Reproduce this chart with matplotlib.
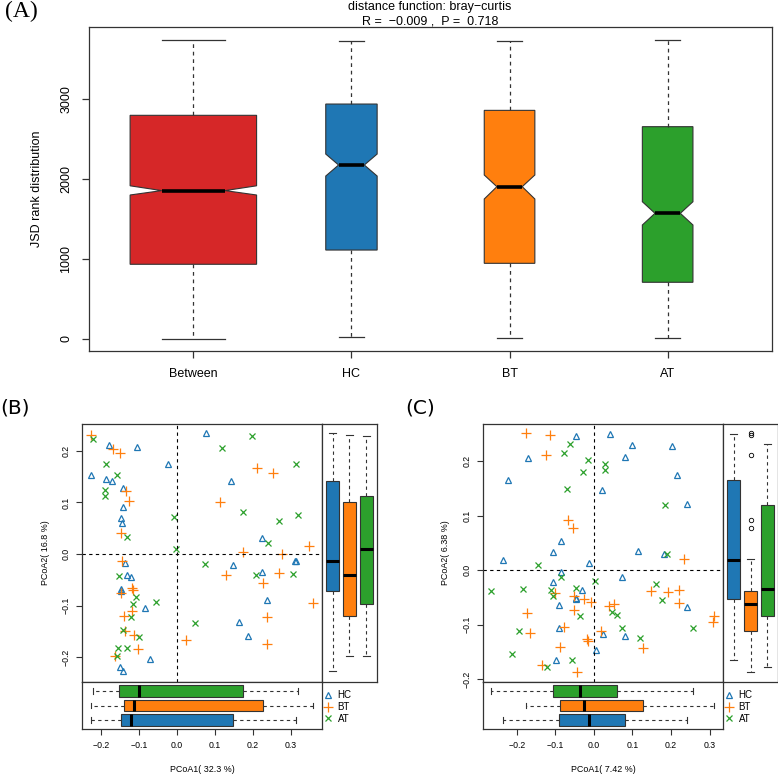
import numpy as np
import matplotlib
matplotlib.use('Agg')
import matplotlib.pyplot as plt

plt.rcParams['font.family'] = ['Liberation Sans', 'DejaVu Sans']

# ---- Panel A: JSD rank distribution (box statistics)
groups_a = ['Between', 'HC', 'BT', 'AT']
a_whislo = [0, 20, 10, 10]
a_q1 = [934, 1112, 946, 709]
a_med = [1855, 2175, 1904, 1571]
a_q3 = [2796, 2937, 2858, 2654]
a_whishi = [3737, 3725, 3721, 3737]
a_cilo = [1800, 2037, 1750, 1425]
a_cihi = [1915, 2312, 2050, 1716]
a_widths = [0.8, 0.325, 0.32, 0.32]

# ---- Panel B: PCoA (bray-curtis), x = PCoA1, y = PCoA2
hc_b_x = [0.0763, -0.178, -0.105, -0.023, -0.226, -0.187, -0.171, -0.143, -0.142, -0.147,
          -0.144, -0.136, -0.131, -0.122, -0.147, -0.146, -0.084, -0.071, -0.150, -0.141,
          0.142, 0.225, 0.148, 0.225, 0.310, 0.314, 0.238, 0.163, 0.186]
hc_b_y = [0.235, 0.212, 0.207, 0.174, 0.153, 0.146, 0.142, 0.127, 0.092, 0.069,
          0.060, -0.018, -0.040, -0.045, -0.068, -0.072, -0.104, -0.203, -0.219, -0.227,
          0.142, 0.032, -0.022, -0.035, -0.014, -0.014, -0.090, -0.131, -0.159]
bt_b_x = [-0.2255, -0.168, -0.149, -0.133, -0.127, -0.147, -0.144, -0.118, -0.117, -0.148,
          -0.118, -0.140, -0.137, -0.112, -0.103, -0.164, 0.0245, 0.2105, 0.2526, 0.114,
          0.349, 0.1745, 0.277, 0.1305, 0.268, 0.227, 0.359, 0.238, 0.238]
bt_b_y = [0.230, 0.204, 0.195, 0.122, 0.103, 0.041, -0.014, -0.066, -0.070, -0.075,
          -0.111, -0.121, -0.150, -0.156, -0.185, -0.197, -0.167, 0.167, 0.158, 0.101,
          0.016, 0.004, 0.001, -0.041, -0.037, -0.057, -0.094, -0.122, -0.174]
at_b_x = [-0.220, -0.186, -0.158, -0.189, -0.1895, -0.008, -0.131, -0.003, -0.152, -0.109,
          -0.115, -0.056, -0.120, -0.142, -0.101, -0.1545, -0.131, -0.159, 0.048, 0.075,
          0.198, 0.118, 0.313, 0.174, 0.319, 0.2675, 0.2395, 0.208, 0.306]
at_b_y = [0.222, 0.175, 0.153, 0.124, 0.113, 0.071, 0.033, 0.010, -0.043, -0.084,
          -0.097, -0.092, -0.123, -0.148, -0.160, -0.182, -0.183, -0.197, -0.134, -0.019,
          0.228, 0.206, 0.175, 0.082, 0.076, 0.064, 0.022, -0.041, -0.038]

# ---- Panel C: PCoA (second distance)
hc_c_x = [-0.046, -0.172, -0.222, 0.021, -0.0865, -0.1055, -0.236, -0.013, -0.085, -0.107,
          -0.030, -0.047, -0.046, -0.092, -0.092, 0.0226, 0.0044, -0.098, 0.041, 0.098,
          0.2036, 0.080, 0.2166, 0.2416, 0.1135, 0.183, 0.074, 0.2426, 0.0805]
hc_c_y = [0.246, 0.206, 0.165, 0.146, 0.054, 0.034, 0.019, 0.012, -0.004, -0.0215,
          -0.036, -0.0515, -0.053, -0.064, -0.107, -0.118, -0.146, -0.166, 0.249, 0.230,
          0.228, 0.208, 0.174, 0.122, 0.035, 0.030, -0.012, -0.068, -0.121]
bt_c_x = [-0.177, -0.115, -0.1255, -0.068, -0.0545, -0.100, -0.053, -0.027, -0.007, -0.052,
          -0.173, -0.077, -0.167, -0.018, -0.0145, -0.089, -0.134, -0.043, 0.018, 0.234,
          0.148, 0.192, 0.222, 0.222, 0.040, 0.052, 0.312, 0.310, 0.1265]
bt_c_y = [0.251, 0.248, 0.211, 0.091, 0.077, -0.043, -0.0485, -0.053, -0.058, -0.073,
          -0.079, -0.104, -0.115, -0.1275, -0.131, -0.142, -0.174, -0.1875, -0.112, 0.021,
          -0.038, -0.041, -0.037, -0.061, -0.066, -0.062, -0.084, -0.096, -0.143]
at_c_x = [-0.063, -0.078, -0.016, -0.029, 0.0296, 0.0296, -0.070, -0.144, -0.086, 0.004,
          -0.2665, -0.183, -0.1125, -0.0475, -0.1055, -0.036, -0.194, -0.212, -0.122, -0.058,
          0.1845, 0.1905, 0.161, 0.176, 0.047, 0.060, 0.258, 0.072, 0.1195]
at_c_y = [0.232, 0.215, 0.202, 0.179, 0.195, 0.183, 0.148, 0.010, -0.013, -0.020,
          -0.038, -0.034, -0.036, -0.0325, -0.047, -0.084, -0.112, -0.154, -0.178, -0.165,
          0.120, 0.030, -0.026, -0.055, -0.077, -0.082, -0.107, -0.107, -0.1245]

group_names = ['HC', 'BT', 'AT']
colors = {'Between': '#D62728', 'HC': '#1F77B4', 'BT': '#FF7F0E', 'AT': '#2CA02C'}
markers = {'HC': ('^', 5.0), 'BT': ('+', 6.5), 'AT': ('x', 4.5)}

EDGE = '#333333'
W, H = 778, 776


def rect(l, t, r, b):
    return [l / W, 1 - b / H, (r - l) / W, (b - t) / H]


def minus(v, fmt):
    return (fmt % v).replace('-', '\u2212')


def style_spines(ax):
    for s in ax.spines.values():
        s.set_color(EDGE)
        s.set_linewidth(0.9)


fig = plt.figure(figsize=(W / 100, H / 100), dpi=100)

# ================= Panel A =================
axA = fig.add_axes(rect(89, 27, 772, 351))
stats = []
for i, g in enumerate(groups_a):
    stats.append(dict(label=g, whislo=a_whislo[i], q1=a_q1[i], med=a_med[i], q3=a_q3[i],
                      whishi=a_whishi[i], cilo=a_cilo[i], cihi=a_cihi[i], fliers=[]))
bp = axA.bxp(stats, positions=[1, 2, 3, 4], widths=a_widths, shownotches=True,
             patch_artist=True,
             boxprops=dict(edgecolor=EDGE, linewidth=0.8),
             medianprops=dict(color='black', linewidth=2.6),
             whiskerprops=dict(color=EDGE, linewidth=0.9, linestyle=(0, (3, 3))),
             capprops=dict(color=EDGE, linewidth=0.9))
for patch, g in zip(bp['boxes'], groups_a):
    patch.set_facecolor(colors[g])
axA.set_xlim(0.34, 4.66)
axA.set_ylim(-150, 3900)
yt = [0, 1000, 2000, 3000]
axA.set_yticks(yt)
axA.set_yticklabels([str(t) for t in yt], rotation=90, va='center')
axA.set_xticks([1, 2, 3, 4])
axA.set_xticklabels(groups_a)
axA.tick_params(axis='both', labelsize=9, length=5, width=0.9, color=EDGE, direction='out')
axA.tick_params(axis='y', pad=7)
axA.tick_params(axis='x', pad=7)
style_spines(axA)
fig.text(37 / W, 1 - 189 / H, 'JSD rank distribution', rotation=90, ha='center', va='center', fontsize=9)
fig.text(430 / W, 1 - 7 / H, 'distance function: bray\u2212curtis', ha='center', va='center', fontsize=9)
fig.text(430 / W, 1 - 21 / H, 'R =  \u22120.009 ,  P =  0.718', ha='center', va='center', fontsize=9)
fig.text(0.006, 0.999, '(A)', ha='left', va='top', fontsize=17, family='Liberation Serif')


# ================= Panels B and C =================
def pcoa_panel(left, xs, ys, xlim, ylim, xticks, yticks, xlabel, ylabel, tag, tag_x):
    main = fig.add_axes(rect(left, 424, left + 240, 682))
    side = fig.add_axes(rect(left + 240, 424, left + 295, 682))
    bottom = fig.add_axes(rect(left, 682, left + 240, 729))

    handles = []
    for g, x, y in zip(group_names, xs, ys):
        m, ms = markers[g]
        h, = main.plot(x, y, linestyle='none', marker=m, ms=ms, mfc='none', mec=colors[g],
                       mew=0.9, label=g)
        handles.append(h)
    main.axvline(0, color='black', lw=0.8, linestyle=(0, (3, 3)))
    main.axhline(0, color='black', lw=0.8, linestyle=(0, (3, 3)))
    main.set_xlim(*xlim)
    main.set_ylim(*ylim)
    main.set_xticks([])
    main.set_yticks(yticks)
    main.set_yticklabels([minus(t, '%.1f') for t in yticks], rotation=90, va='center')
    main.tick_params(axis='y', labelsize=6.3, length=4, width=0.8, color=EDGE, pad=4)

    box_kw = dict(widths=0.8, patch_artist=True, whis=1.5,
                  boxprops=dict(edgecolor=EDGE, linewidth=0.8),
                  medianprops=dict(color='black', linewidth=2.2),
                  whiskerprops=dict(color=EDGE, linewidth=0.8, linestyle=(0, (3, 3))),
                  capprops=dict(color=EDGE, linewidth=0.8),
                  flierprops=dict(marker='o', ms=3.2, mfc='none', mec='black', mew=0.6))

    bs = side.boxplot(ys, positions=[1, 2, 3], **box_kw)
    for patch, g in zip(bs['boxes'], group_names):
        patch.set_facecolor(colors[g])
    side.set_xlim(0.38, 3.62)
    side.set_ylim(*ylim)
    side.set_xticks([])
    side.set_yticks([])

    bb = bottom.boxplot(xs, positions=[1, 2, 3], orientation='horizontal', **box_kw)
    for patch, g in zip(bb['boxes'], group_names):
        patch.set_facecolor(colors[g])
    bottom.set_ylim(0.38, 3.62)
    bottom.set_xlim(*xlim)
    bottom.set_yticks([])
    bottom.set_xticks(xticks)
    bottom.set_xticklabels([minus(t, '%.1f') for t in xticks])
    bottom.tick_params(axis='x', labelsize=6.3, length=4, width=0.8, color=EDGE, pad=5)

    for a in (main, side, bottom):
        style_spines(a)

    fig.text((left + 120) / W, 1 - 770 / H, xlabel, ha='center', va='center', fontsize=6.4)
    fig.text((left - 37) / W, 1 - 553 / H, ylabel, rotation=90, ha='center', va='center', fontsize=6.4)
    fig.text(tag_x / W, 1 - 399 / H, tag, ha='left', va='top', fontsize=14.5, family='DejaVu Sans')

    fig.legend(handles, group_names, loc='upper left',
               bbox_to_anchor=((left + 242) / W, 1 - 690 / H), frameon=False,
               fontsize=7, handlelength=0.8, handletextpad=0.6, labelspacing=0.2,
               borderpad=0, borderaxespad=0)


ticks = [-0.2, -0.1, 0.0, 0.1, 0.2, 0.3]
pcoa_panel(82, [hc_b_x, bt_b_x, at_b_x], [hc_b_y, bt_b_y, at_b_y],
           (-0.250, 0.382), (-0.248, 0.252), ticks, ticks[:5],
           'PCoA1( 32.3 %)', 'PCoA2( 16.8 %)', '(B)', 0)
pcoa_panel(483, [hc_c_x, bt_c_x, at_c_x], [hc_c_y, bt_c_y, at_c_y],
           (-0.288, 0.335), (-0.2055, 0.268), ticks, ticks[:5],
           'PCoA1( 7.42 %)', 'PCoA2( 6.38 %)', '(C)', 405)

fig.savefig('out.png', dpi=100)
plt.close(fig)
